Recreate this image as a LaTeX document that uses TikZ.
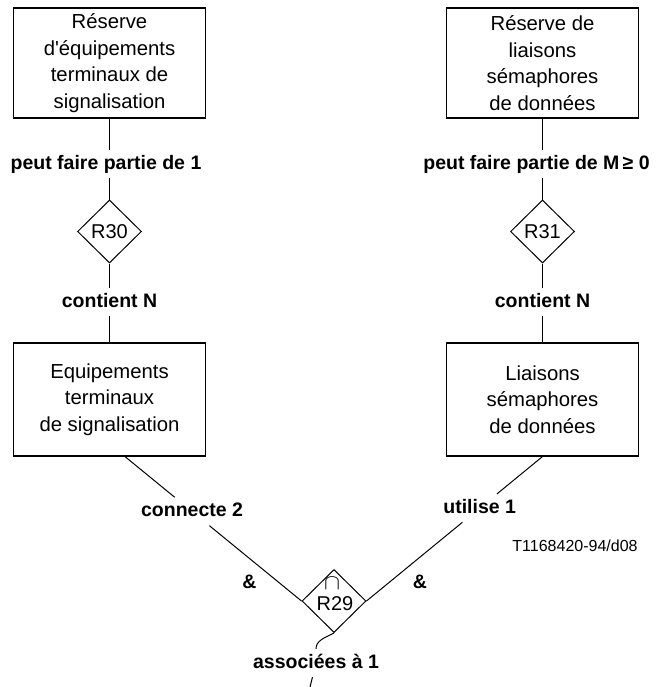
\documentclass[tikz,border=0pt]{standalone}
\usepackage{fontspec}
\usepackage{graphicx}
\setmainfont{Liberation Sans}[Ligatures=TeXOff]
\usetikzlibrary{shapes.geometric,calc}

\begin{document}
\begin{tikzpicture}[x=1pt,y=-1pt,
  entity/.style={draw, line width=1.1pt, minimum width=192pt, align=center,
    inner sep=0pt, font=\fontsize{20.3}{26.5}\selectfont},
  relation/.style={draw, diamond, line width=1pt, minimum width=64pt,
    minimum height=63pt, inner sep=0pt, font=\fontsize{20}{20}\selectfont},
  role/.style={font=\fontsize{19.5}{20}\selectfont\bfseries, inner xsep=2pt,
    inner ysep=5pt, text height=14pt, text depth=4pt},
  vlink/.style={line width=1.8pt},
  dlink/.style={line width=1pt},
]
\useasboundingbox (0,0) rectangle (656,687);

% entity boxes
\node[entity, minimum height=110pt] (tl) at (109.5,63)
  {Réserve\\d'équipements\\terminaux de\\signalisation};
\node[entity, minimum height=110pt] (tr) at (542.5,63)
  {Réserve de\\liaisons\\sémaphores\\de données};
\node[entity, minimum height=113pt] (ml) at (109.5,399.5)
  {Equipements\\terminaux\\de signalisation};
\node[entity, minimum height=113pt] (mr) at (542.5,399.5)
  {Liaisons\\sémaphores\\de données};

% relationships
\node[relation] (r30) at (109.5,231.5) {R30};
\node[relation] (r31) at (542.5,231.5) {R31};
\node[relation] (r29) at (334,601) {};
\node[font=\fontsize{20}{20}\selectfont, inner sep=0pt] (r29t) at (335,604) {R29};
\node[inner sep=0pt] (r29c) at (332,583.5) {\resizebox{16pt}{12pt}{$\cap$}};

% role labels
\node[role] (l1) at (106,164) {peut faire partie de 1};
\node[role] (l2) at (536.5,164) {peut faire partie de M\,≥ 0};
\node[role] (c1) at (109.5,302) {contient N};
\node[role] (c2) at (542.5,302) {contient N};

% vertical links
\draw[vlink] (tl.south) -- (tl.south |- l1.north);
\draw[vlink] (tl.south |- l1.south) -- (r30.north);
\draw[vlink] (r30.south) -- (r30.south |- c1.north);
\draw[vlink] (r30.south |- c1.south) -- (ml.north);
\draw[vlink] (tr.south) -- (tr.south |- l2.north);
\draw[vlink] (tr.south |- l2.south) -- (r31.north);
\draw[vlink] (r31.south) -- (r31.south |- c2.north);
\draw[vlink] (r31.south |- c2.south) -- (mr.north);

% diagonal links into R29
\coordinate (ml-out) at ($(ml.south west)!0.58!(ml.south east)$);
\node[role] (cn) at ($(ml-out)!0.38!(r29.west)$) {connecte 2};
\node[role] (ut) at ($(mr.south)!0.357!(r29.east)$) {utilise 1};
\draw[dlink] (ml-out) -- (cn) -- (r29.west);
\draw[dlink] (mr.south) -- (ut) -- (r29.east);

\node[role] (amp1) at (249.5,583.5) {\&};
\node[role] (amp2) at (420,583.5) {\&};

\node[font=\fontsize{16}{16}\selectfont] (ref) at (575,546) {T1168420-94/d08};

% link leaving R29
\node[role] (as) at (316,663) {associées à 1};
\coordinate (as-end) at (310,687);
\draw[dlink] (r29.south) .. controls +(-10,5) and +(0,-8) .. (as.north);
\draw[dlink] (as) -- (as-end);
\end{tikzpicture}
\end{document}
